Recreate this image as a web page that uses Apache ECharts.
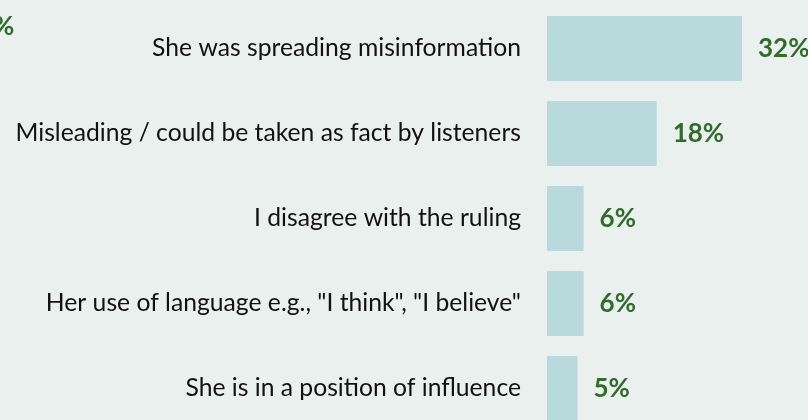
<!DOCTYPE html>
<html>
<head>
<meta charset="utf-8">
<script src="https://cdn.jsdelivr.net/npm/echarts@6/dist/echarts.min.js"></script>
<style>
  html, body { margin: 0; padding: 0; background: #EAF0EE; }
  #chart { width: 808px; height: 420px; }
</style>
</head>
<body>
<div id="chart"></div>
<script>
// 类别 / 数值
const categories = [
  'She was spreading misinformation',
  'Misleading / could be taken as fact by listeners',
  'I disagree with the ruling',
  'Her use of language e.g., "I think", "I believe"',
  'She is in a position of influence'
];
const values = [32, 18, 6, 6, 5];

// 颜色
const bgColor = '#EAF0EE';
const barColor = '#B8DADD';
const valueColor = '#336B2E';
const textColor = '#111111';

const myChart = echarts.init(document.getElementById('chart'));
const option = {
  backgroundColor: bgColor,
  animation: false,
  grid: {
    left: 547,
    width: 243.75,
    top: 6,
    height: 425,
    containLabel: false,
    outerBoundsMode: 'none',
  },
  xAxis: {
    type: 'value',
    min: 0,
    max: 40,
    show: false,
  },
  yAxis: {
    type: 'category',
    data: categories,
    inverse: true,
    axisLine: { show: false },
    axisTick: { show: false },
    splitLine: { show: false },
    axisLabel: {
      margin: 26,
      color: textColor,
      fontFamily: 'Lato',
      fontSize: 24.7,
    },
  },
  series: [
    {
      type: 'bar',
      data: values,
      barCategoryGap: '23.5%',
      itemStyle: { color: barColor },
      label: {
        show: true,
        position: 'right',
        distance: 16,
        formatter: '{c}%',
        color: valueColor,
        fontFamily: 'Lato',
        fontWeight: 'bold',
        fontSize: 26,
      },
    },
  ],
  // 左上角被截断的标签
  graphic: [
    {
      type: 'text',
      left: -7,
      top: 14,
      style: {
        text: '%',
        fill: valueColor,
        font: 'bold 26px Lato',
      },
    },
  ],
};
myChart.setOption(option);
</script>
</body>
</html>
